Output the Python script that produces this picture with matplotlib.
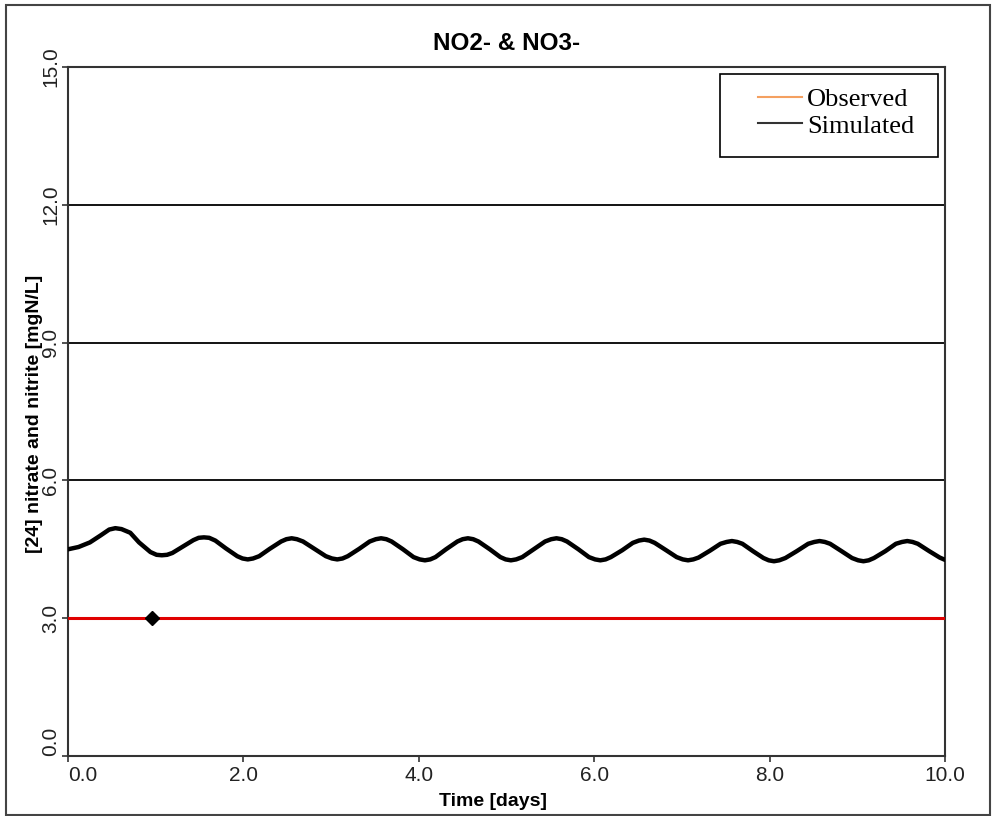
import matplotlib
matplotlib.use("Agg")
import matplotlib.pyplot as plt
from matplotlib.lines import Line2D
from matplotlib.patches import Rectangle

# simulated nitrate+nitrite [mgN/L] vs time [days]
sim_t = [0.0, 0.12, 0.25, 0.37, 0.47, 0.54, 0.61,
         0.71, 0.81, 0.94, 1.01, 1.07, 1.13,
         1.19, 1.31, 1.43, 1.49, 1.55, 1.61,
         1.68, 1.80, 1.93, 1.99, 2.05, 2.11,
         2.18, 2.30, 2.43, 2.49, 2.55, 2.61,
         2.68, 2.81, 2.94, 3.01, 3.07, 3.13,
         3.19, 3.32, 3.44, 3.51, 3.57, 3.63,
         3.69, 3.82, 3.94, 4.01, 4.07, 4.13,
         4.19, 4.31, 4.44, 4.50, 4.56, 4.62,
         4.68, 4.81, 4.93, 4.99, 5.05, 5.11,
         5.18, 5.31, 5.44, 5.51, 5.57, 5.63,
         5.69, 5.82, 5.94, 6.01, 6.07, 6.13,
         6.19, 6.32, 6.44, 6.51, 6.57, 6.63,
         6.69, 6.82, 6.94, 7.01, 7.07, 7.13,
         7.19, 7.32, 7.44, 7.51, 7.57, 7.63,
         7.69, 7.81, 7.93, 7.99, 8.05, 8.11,
         8.18, 8.31, 8.44, 8.51, 8.57, 8.63,
         8.69, 8.82, 8.94, 9.01, 9.07, 9.13,
         9.19, 9.32, 9.44, 9.51, 9.57, 9.63,
         9.69, 9.82, 9.94, 10.0]
sim_v = [4.50, 4.55, 4.65, 4.80, 4.93, 4.96, 4.94,
         4.86, 4.65, 4.44, 4.38, 4.37, 4.38,
         4.42, 4.56, 4.70, 4.75, 4.76, 4.75,
         4.69, 4.52, 4.35, 4.30, 4.28, 4.30,
         4.35, 4.51, 4.67, 4.72, 4.74, 4.72,
         4.67, 4.51, 4.35, 4.30, 4.28, 4.30,
         4.35, 4.51, 4.67, 4.72, 4.74, 4.72,
         4.67, 4.50, 4.33, 4.28, 4.26, 4.28,
         4.33, 4.50, 4.67, 4.72, 4.74, 4.72,
         4.67, 4.50, 4.33, 4.28, 4.26, 4.28,
         4.33, 4.50, 4.67, 4.72, 4.74, 4.72,
         4.67, 4.50, 4.33, 4.28, 4.26, 4.28,
         4.33, 4.48, 4.64, 4.69, 4.71, 4.69,
         4.64, 4.48, 4.33, 4.28, 4.26, 4.28,
         4.32, 4.47, 4.62, 4.66, 4.68, 4.66,
         4.62, 4.46, 4.31, 4.26, 4.24, 4.26,
         4.31, 4.46, 4.62, 4.66, 4.68, 4.66,
         4.62, 4.46, 4.31, 4.26, 4.24, 4.26,
         4.31, 4.46, 4.62, 4.66, 4.68, 4.66,
         4.62, 4.46, 4.32, 4.27]

# observed point and constant level
obs_t = [0.96]
obs_v = [3.0]
level_t = [0.0, 10.0]
level_v = [3.0, 3.0]

xticks = [0, 2, 4, 6, 8, 10]
yticks = [0, 3, 6, 9, 12, 15]

sans = ["Liberation Sans", "DejaVu Sans"]
serif = ["Liberation Serif", "DejaVu Serif"]

W, H = 995, 816
fig = plt.figure(figsize=(W / 100, H / 100), dpi=100)
ax = fig.add_axes([68 / W, 60 / H, 877 / W, 689 / H])

def px_box(x0, y0, x1, y1):
    # pixel box (top-left origin) -> figure fraction rect
    return (x0 / W, 1 - y1 / H), (x1 - x0) / W, (y1 - y0) / H

# outer frame
xy, w, h = px_box(6, 5, 990, 815)
fig.patches.append(Rectangle(xy, w, h, transform=fig.transFigure, fill=False,
                             edgecolor="#444444", lw=1.5))

ax.set_xlim(0, 10)
ax.set_ylim(0, 15)
ax.set_yticks(yticks)
ax.set_xticks(xticks)
ax.set_xticklabels(["%.1f" % v for v in xticks], family=sans, fontsize=15, color="#222222")
ax.set_yticklabels(["%.1f" % v for v in yticks], family=sans, fontsize=15,
                   rotation=90, va="center", color="#222222")
ax.get_xticklabels()[0].set_ha("left")
ax.get_yticklabels()[0].set_va("bottom")
ax.tick_params(length=4, width=1.2, color="#333333")
ax.tick_params(axis="x", pad=3)
ax.tick_params(axis="y", pad=1.5)

ax.grid(axis="y", color="black", lw=1.3)
ax.set_axisbelow(True)

for s in ax.spines.values():
    s.set_color("#333333")
    s.set_linewidth(1.5)

ax.plot(level_t, level_v, color="#e00000", lw=2.2, zorder=3)
ax.plot(sim_t, sim_v, color="black", lw=3.2, zorder=4,
        solid_joinstyle="round", solid_capstyle="round")
ax.plot(obs_t, obs_v, "D", color="black", ms=7, zorder=5)

ax.set_title("NO2- & NO3-", family=sans, fontsize=17.5, fontweight="bold", pad=12)
ax.set_xlabel("Time [days]", family=sans, fontsize=14, fontweight="bold")
ax.xaxis.set_label_coords((493 - 68) / 877, -(793 - 756) / 689)
ax.set_ylabel("[24] nitrate and nitrite [mgN/L]", family=sans, fontsize=14,
              fontweight="bold")
ax.yaxis.set_label_coords(-(68 - 43) / 877, 0.497)

# legend box and entries
xy, w, h = px_box(720, 74, 938, 157)
fig.patches.append(Rectangle(xy, w, h, transform=fig.transFigure, fill=True,
                             facecolor="white", edgecolor="black", lw=1.2, zorder=10))
handles = [Line2D([], [], color="#f4a060", lw=1.5),
           Line2D([], [], color="#333333", lw=1.5)]
leg = fig.legend(handles, ["Observed", "Simulated"], loc="upper left",
                 bbox_to_anchor=(758 / W, 1 - 88 / H),
                 prop={"family": serif, "size": 19}, handlelength=1.67,
                 handletextpad=0.2, borderpad=0, borderaxespad=0,
                 labelspacing=0.1, frameon=False)
leg.set_zorder(11)

fig.savefig("out.png", dpi=100)
